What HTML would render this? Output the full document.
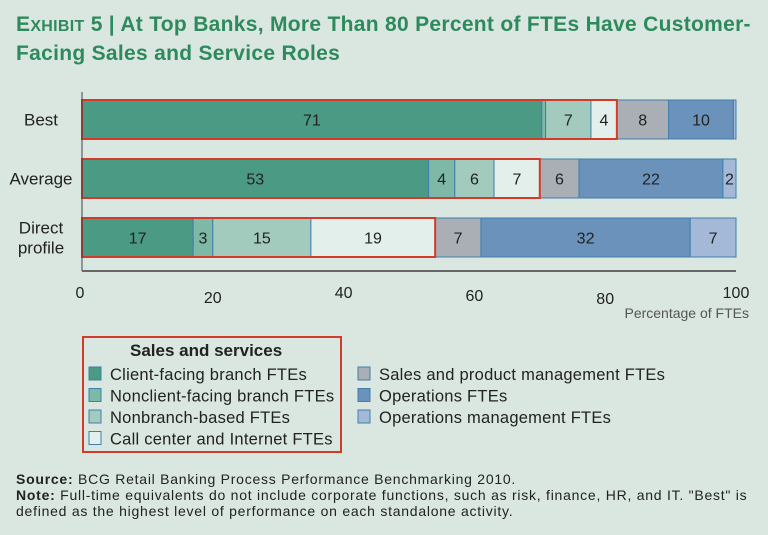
<!DOCTYPE html>
<html><head><meta charset="utf-8"><style>
body{margin:0;background:#dae7e1;font-family:"Liberation Sans",sans-serif;}
#wrap{position:relative;width:768px;height:535px;overflow:hidden;background:#dae7e1;}
.title{position:absolute;left:16px;top:11px;color:#2e8a5d;font-weight:bold;font-size:21px;line-height:27px;letter-spacing:0.3px;white-space:nowrap;}
.foot{position:absolute;left:16px;font-size:14px;color:#222;letter-spacing:0.75px;white-space:nowrap;}
</style></head><body>
<div id="wrap">
<div class="title">E<span style="font-size:16px">XHIBIT</span> 5 | At Top Banks, More Than 80 Percent of FTEs Have Customer-<br>Facing Sales and Service Roles</div>
<svg id="chart" width="768" height="460" style="position:absolute;left:0;top:0"></svg>
<div class="foot" style="top:471px"><b>Source:</b> BCG Retail Banking Process Performance Benchmarking 2010.</div>
<div class="foot" style="top:487px;line-height:16px"><b>Note:</b> Full-time equivalents do not include corporate functions, such as risk, finance, HR, and IT. "Best" is<br>defined as the highest level of performance on each standalone activity.</div>
</div>
<script>
const categories=["Best","Average","Direct profile"];
const seriesNames=["Client-facing branch FTEs","Nonclient-facing branch FTEs","Nonbranch-based FTEs","Call center and Internet FTEs","Sales and product management FTEs","Operations FTEs","Operations management FTEs"];
const bestValues=[71,0.6,7,4,8,10,0.4];
const averageValues=[53,4,6,7,6,22,2];
const directValues=[17,3,15,19,7,32,7];
const printed=[["71","","7","4","8","10",""],["53","4","6","7","6","22","2"],["17","3","15","19","7","32","7"]];
const xTicks=[0,20,40,60,80,100];
const colors=["#4b9a83","#7db9a6","#a3cbbd","#e3efeb","#a9afb4","#6b92bb","#a4b9d7"];
const NS="http://www.w3.org/2000/svg";
const svg=document.getElementById("chart");
const x0=82,x1=736;
const xs=v=>x0+(x1-x0)*v/100;
const rowTop=[100,159,218],barH=39;
const tickY=[294,299,294,297,300,294];
function mk(t,a){const e=document.createElementNS(NS,t);for(const k in a)e.setAttribute(k,a[k]);svg.appendChild(e);return e;}
const rows=[bestValues,averageValues,directValues];
rows.forEach((vals,r)=>{
 const tot=vals.reduce((a,b)=>a+b,0);let cum=0;const y=rowTop[r];
 vals.forEach((v,i)=>{
  const a=xs(cum/tot*100),b=xs((cum+v)/tot*100);cum+=v;
  const rc=mk("rect",{x:a,y:y,width:b-a,height:barH,fill:colors[i],stroke:"#3f7fae","stroke-width":1});
  
  
  if(printed[r][i]){const t=mk("text",{x:(a+b)/2,y:y+barH/2+6,"text-anchor":"middle","font-size":16,fill:"#222"});t.textContent=printed[r][i];
  
  }
 });
 const s=vals.slice(0,4).reduce((a,b)=>a+b,0);
 const box=mk("rect",{x:x0,y:y,width:xs(s/tot*100)-x0,height:barH,fill:"none",stroke:"#d23b2a","stroke-width":2});
 
 
 const lines=categories[r]==="Direct profile"?["Direct","profile"]:[categories[r]];
 lines.forEach((l,k)=>{const t=mk("text",{x:41,y:y+barH/2+6+(lines.length>1?(k-0.5)*20:0),"text-anchor":"middle","font-size":17,fill:"#222"});t.textContent=l;
 
 });
});
const ax=mk("line",{x1:x0,y1:92,x2:x0,y2:271,stroke:"#444","stroke-width":1});


const bx=mk("line",{x1:x0,y1:271,x2:x1,y2:271,stroke:"#666","stroke-width":2});


xTicks.forEach((v,i)=>{const t=mk("text",{x:xs(v)+(i==0?-2:0),y:tickY[i]+4,"text-anchor":"middle","font-size":16,fill:"#222"});t.textContent=v;
 
 });
const xt=mk("text",{x:749,y:318,"text-anchor":"end","font-size":14,fill:"#555"});xt.textContent="Percentage of FTEs";


const lb=mk("rect",{x:83,y:337,width:258,height:115,fill:"none",stroke:"#d23b2a","stroke-width":2});


const lt=mk("text",{x:130,y:356,"font-size":17,"font-weight":"bold",fill:"#222"});lt.textContent="Sales and services";


seriesNames.forEach((n,i)=>{
 const col=i<4?0:1,row=i<4?i:i-4;const lx=col?358:89,ly=367+row*21.5;
 const sq=mk("rect",{x:lx,y:ly,width:12,height:13,fill:colors[i],stroke:"#3f7fae","stroke-width":1});
 
 
 const t=mk("text",{x:lx+21,y:ly+13,"font-size":16.5,"letter-spacing":0.25,fill:"#222"});t.textContent=n;
 
 
});
</script>
</body></html>
